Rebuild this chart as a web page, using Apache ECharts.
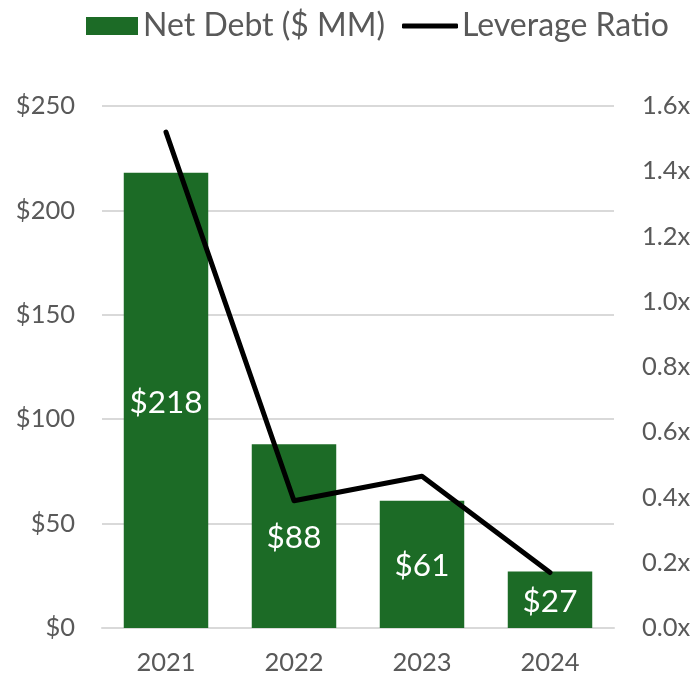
<!DOCTYPE html>
<html><head><meta charset="utf-8">
<script src="https://cdn.jsdelivr.net/npm/echarts@6/dist/echarts.min.js"></script>
<style>html,body{margin:0;padding:0;background:#fff}#c{width:697px;height:677px}</style>
</head><body><div id="c"></div>
<script>
var categories = ['2021', '2022', '2023', '2024'];
var netDebt = [218, 88, 61, 27];
var leverage = [1.52, 0.39, 0.465, 0.17];
var leftTicks = [0, 50, 100, 150, 200, 250];
var rightTicks = [0, 0.2, 0.4, 0.6, 0.8, 1.0, 1.2, 1.4, 1.6];

var chart = echarts.init(document.getElementById('c'));
var font = 'Lato';
var axisLabelSize = 25.5;
chart.setOption({
  animation: false,
  textStyle: { fontFamily: font },
  legend: [
    {
      top: 5, left: 81,
      itemWidth: 52, itemHeight: 18,
      textStyle: { fontSize: 32, color: '#595959', fontFamily: font, padding: [0, 0, 0, 0] },
      data: [{ name: 'Net Debt ($ MM)', icon: 'rect' }]
    },
    {
      top: 5, left: 397,
      itemWidth: 56, itemHeight: 5,
      textStyle: { fontSize: 32, color: '#595959', fontFamily: font, padding: [0, 0, 0, -1] },
      data: [{ name: 'Leverage Ratio', icon: 'roundRect', itemStyle: { color: '#000000' } }]
    }
  ],
  grid: { left: 102, right: 83, top: 106, bottom: 49, containLabel: false },
  xAxis: {
    type: 'category', data: categories,
    axisTick: { show: false },
    axisLine: { lineStyle: { color: '#d9d9d9', width: 2 } },
    axisLabel: { fontSize: axisLabelSize, color: '#595959', margin: 22, fontFamily: font }
  },
  yAxis: [
    {
      type: 'value', min: leftTicks[0], max: leftTicks[leftTicks.length - 1], interval: 50,
      axisLine: { show: false }, axisTick: { show: false },
      splitLine: { lineStyle: { color: '#d9d9d9', width: 2 } },
      axisLabel: { fontSize: axisLabelSize, color: '#595959', margin: 27, fontFamily: font,
        formatter: function (v) { return '$' + v; } }
    },
    {
      type: 'value', min: rightTicks[0], max: rightTicks[rightTicks.length - 1], interval: 0.2,
      axisLine: { show: false }, axisTick: { show: false }, splitLine: { show: false },
      axisLabel: { fontSize: axisLabelSize, color: '#595959', margin: 28, fontFamily: font,
        formatter: function (v) { return v.toFixed(1) + 'x'; } }
    }
  ],
  series: [
    {
      name: 'Net Debt ($ MM)', type: 'bar', data: netDebt, yAxisIndex: 0,
      barWidth: '66%',
      itemStyle: { color: '#1c6b26' },
      label: { show: true, position: 'inside', offset: [0, 2], color: '#ffffff', fontSize: 31.5, fontFamily: font,
        formatter: function (p) { return '$' + p.value; } }
    },
    {
      name: 'Leverage Ratio', type: 'line', data: leverage, yAxisIndex: 1,
      symbol: 'none',
      lineStyle: { color: '#000000', width: 5, cap: 'round', join: 'round' },
      itemStyle: { color: '#000000' }
    }
  ]
});
</script></body></html>
